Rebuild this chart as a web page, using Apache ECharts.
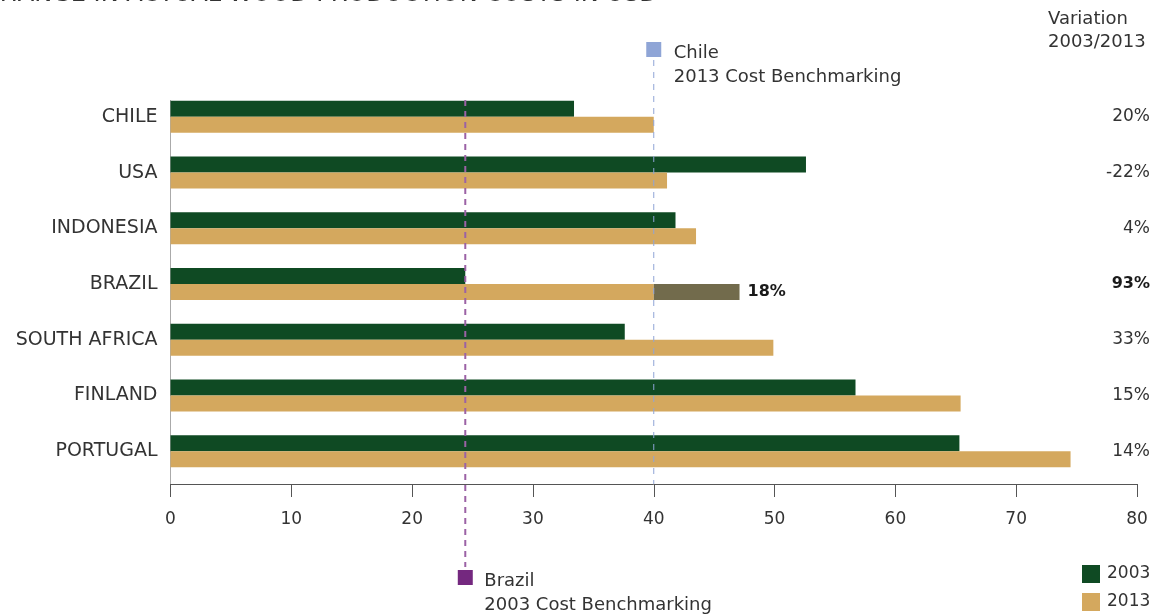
<!DOCTYPE html>
<html>
<head>
<meta charset="utf-8">
<script src="https://cdn.jsdelivr.net/npm/echarts@6/dist/echarts.min.js"></script>
<style>
  html, body { margin: 0; padding: 0; background: #fff; }
  #chart { width: 1157px; height: 614px; }
</style>
</head>
<body>
<div id="chart"></div>
<script>
// Actual wood production costs (USD), 2003 vs 2013
const countries = ['CHILE', 'USA', 'INDONESIA', 'BRAZIL', 'SOUTH AFRICA', 'FINLAND', 'PORTUGAL'];
const cost2003 = [33.4, 52.6, 41.8, 24.4, 37.6, 56.7, 65.3];
const cost2013 = [40.0, 41.1, 43.5, 47.1, 49.9, 65.4, 74.5];
const variation = [20, -22, 4, 93, 33, 15, 14];   // % change 2003 -> 2013
const xTickLabels = [0, 10, 20, 30, 40, 50, 60, 70, 80];

const chileIdx = countries.indexOf('CHILE');
const brazilIdx = countries.indexOf('BRAZIL');
const chileBenchmark = cost2013[chileIdx];   // Chile 2013 cost benchmarking
const brazilBenchmark = cost2003[brazilIdx]; // Brazil 2003 cost benchmarking

const FONT = '"DejaVu Sans", sans-serif';
const TEXT = '#333333';
const TEXT_BOLD = '#1a1a1a';
const GREEN = '#0f4a23';
const TAN = '#d4a85e';
const OLIVE = '#726b4c';
const BLUE = '#8fa5d6';
const PURPLE = '#74287f';

// Brazil's 2013 bar is split at the Chile benchmark; the part above it is highlighted
const tan2013 = cost2013.map((v, i) => i === brazilIdx ? chileBenchmark : v);
const excess2013 = cost2013.map((v, i) => i === brazilIdx ? +(v - chileBenchmark).toFixed(2) : '-');
const excessPct = Math.round((cost2013[brazilIdx] / chileBenchmark - 1) * 100);

const chart = echarts.init(document.getElementById('chart'), null, { renderer: 'canvas' });

chart.setOption({
  animation: false,
  textStyle: { fontFamily: FONT, color: TEXT },
  grid: { left: 170.5, right: 20, top: 89, bottom: 135, containLabel: false },
  legend: {
    data: ['2003', '2013'],
    orient: 'vertical',
    left: 1082, top: 565,
    padding: 0,
    itemWidth: 18, itemHeight: 18, itemGap: 10,
    icon: 'rect',
    textStyle: { fontFamily: FONT, fontSize: 17, color: TEXT, padding: [0, 0, 0, 2] },
    selectedMode: false
  },
  xAxis: {
    type: 'value',
    min: xTickLabels[0], max: xTickLabels[xTickLabels.length - 1], interval: 10,
    offset: 5,
    axisLine: { show: true, lineStyle: { color: '#555', width: 1 } },
    axisTick: { show: true, length: 13, lineStyle: { color: '#555' } },
    splitLine: { show: false },
    axisLabel: { margin: 27, fontSize: 17, color: TEXT, fontFamily: FONT }
  },
  yAxis: [{
    type: 'category',
    data: countries,
    inverse: true,
    axisLine: { show: false },
    axisTick: { show: false },
    axisLabel: { margin: 13, fontSize: 19, color: TEXT, fontFamily: FONT }
  }, {
    type: 'category',
    data: variation.map(v => v + '%'),
    inverse: true,
    position: 'right',
    axisLine: { show: false },
    axisTick: { show: false },
    axisLabel: {
      margin: 13, align: 'right', fontSize: 17, color: TEXT, fontFamily: FONT,
      formatter: (val, i) => i === brazilIdx ? '{b|' + val + '}' : val,
      rich: { b: { fontWeight: 'bold', fontSize: 16, fontFamily: FONT, color: TEXT_BOLD } }
    }
  }],
  series: [{
    name: '2003', type: 'bar', data: cost2003,
    barWidth: 16, barGap: '0%',
    itemStyle: { color: GREEN }
  }, {
    name: '2013', type: 'bar', data: tan2013, stack: 'y2013',
    barWidth: 16, barGap: '0%',
    itemStyle: { color: TAN }
  }, {
    name: 'excess', type: 'bar', data: excess2013, stack: 'y2013',
    barWidth: 16, barGap: '0%',
    itemStyle: { color: OLIVE },
    label: {
      show: true, position: 'right', distance: 8,
      formatter: () => excessPct + '%',
      fontFamily: FONT, fontWeight: 'bold', fontSize: 16, color: TEXT_BOLD
    }
  }]
});

// Benchmark reference lines, the value-axis baseline and captions, placed through the axis scales
const xZero = chart.convertToPixel({ xAxisIndex: 0 }, xTickLabels[0]);
const xChile = chart.convertToPixel({ xAxisIndex: 0 }, chileBenchmark);
const xBrazil = chart.convertToPixel({ xAxisIndex: 0 }, brazilBenchmark);
const axisY = chart.getHeight() - 135 + 5;

chart.setOption({
  graphic: [
    {
      type: 'text', x: -17, y: -17, silent: true,
      style: { text: 'CHANGE IN ACTUAL WOOD PRODUCTION COSTS IN USD', fontFamily: FONT, fontSize: 24, fill: TEXT }
    },
    {
      type: 'text', left: 1048, top: 8, silent: true,
      style: { text: 'Variation\n2003/2013', fontFamily: FONT, fontSize: 18, lineHeight: 23, fill: TEXT }
    },
    {
      type: 'line', silent: true,
      shape: { x1: xZero, y1: 100, x2: xZero, y2: axisY },
      style: { stroke: '#aaa', lineWidth: 1 }
    },
    {
      type: 'line', silent: true, z: 10,
      shape: { x1: xChile, y1: 60, x2: xChile, y2: axisY },
      style: { stroke: BLUE, lineWidth: 1, lineDash: [6, 6] }
    },
    {
      type: 'rect', silent: true,
      shape: { x: xChile - 7.5, y: 42, width: 15, height: 15 },
      style: { fill: BLUE }
    },
    {
      type: 'text', silent: true, x: xChile + 20, y: 41,
      style: { text: 'Chile\n2013 Cost Benchmarking', fontFamily: FONT, fontSize: 18, lineHeight: 24, fill: TEXT }
    },
    {
      type: 'line', silent: true, z: 10,
      shape: { x1: xBrazil, y1: 100, x2: xBrazil, y2: 567 },
      style: { stroke: '#9b62a5', lineWidth: 2, lineDash: [6, 5] }
    },
    {
      type: 'rect', silent: true,
      shape: { x: xBrazil - 7.5, y: 570, width: 15, height: 15 },
      style: { fill: PURPLE }
    },
    {
      type: 'text', silent: true, x: xBrazil + 19, y: 569,
      style: { text: 'Brazil\n2003 Cost Benchmarking', fontFamily: FONT, fontSize: 18, lineHeight: 24, fill: TEXT }
    }
  ]
});
</script>
</body>
</html>
